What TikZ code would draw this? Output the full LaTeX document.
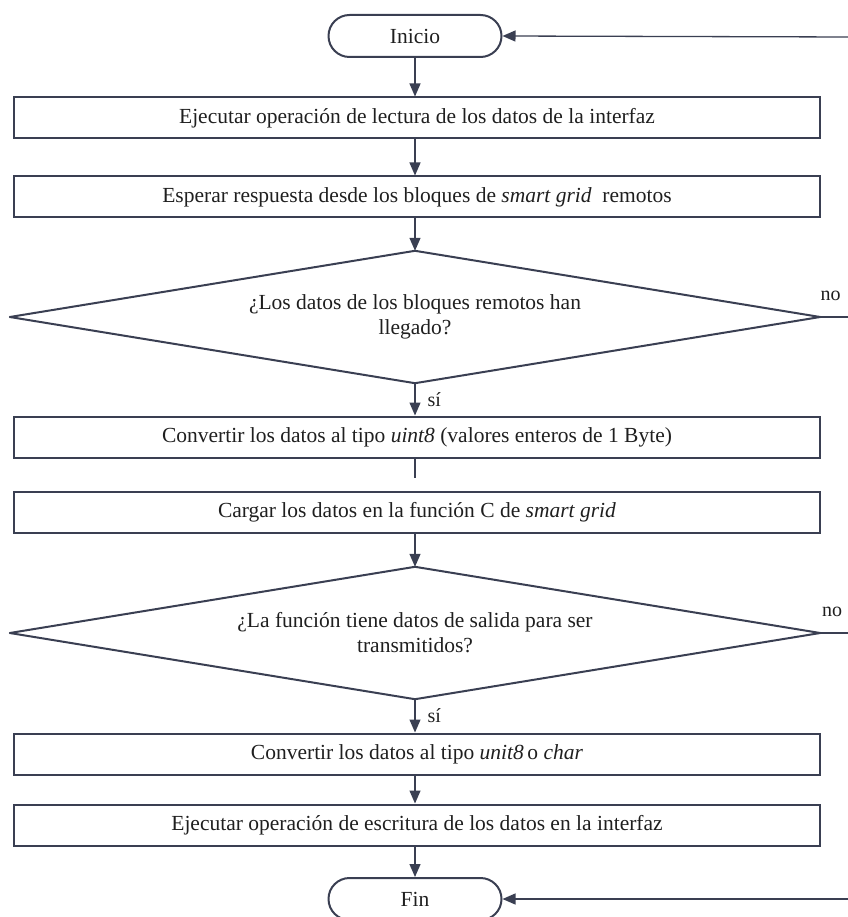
\documentclass[tikz,border=0pt]{standalone}
\usepackage{fontspec}
\setmainfont{Liberation Serif}
\usetikzlibrary{arrows.meta,shapes.misc}
\definecolor{ink}{RGB}{58,63,82}
\begin{document}
\begin{tikzpicture}[x=1pt,y=-1pt,
  every node/.style={font=\fontsize{21.5}{25}\selectfont, text=black!88},
  procbox/.style={draw=ink, line width=2pt, minimum width=806pt, minimum height=41pt, inner sep=0pt},
  term/.style={draw=ink, line width=2pt, rounded rectangle, minimum width=173pt, minimum height=42pt, inner sep=0pt},
  decision/.style={minimum width=810pt, minimum height=132pt, inner sep=0pt, align=center},
  rhomb/.style={draw=ink, line width=2pt, line join=round},
  flow/.style={draw=ink, line width=1.3pt, -{Triangle[length=13pt,width=11pt]}},
  plain/.style={draw=ink, line width=1.3pt},
  lbl/.style={font=\fontsize{20}{22}\selectfont, inner sep=0pt}
]
\useasboundingbox (0,0) rectangle (847,917);

% terminals, process steps and decisions
\node[term]     (start) at (415,36)  {Inicio};
\node[procbox]  (read)  at (417,118) {Ejecutar operación de lectura de los datos de la interfaz};
\node[procbox]  (wait)  at (417,197) {Esperar respuesta desde los bloques de \textit{smart grid}\ \ remotos};
\node[decision] (q1)    at (415,317) {¿Los datos de los bloques remotos han\\llegado?};
\node[procbox]  (conv)  at (417,437) {Convertir los datos al tipo \textit{uint8} (valores enteros de 1 Byte)};
\node[procbox]  (load)  at (417,512) {Cargar los datos en la función C de \textit{smart grid}};
\node[decision] (q2)    at (415,633) {¿La función tiene datos de salida para ser\\transmitidos?};
\node[procbox]  (conv2) at (417,754) {Convertir los datos al tipo \textit{unit8}\,o \textit{char}};
\node[procbox]  (write) at (417,825) {Ejecutar operación de escritura de los datos en la interfaz};
\node[term]     (stop)  at (415,899) {Fin};

% decision outlines
\draw[rhomb] (q1.north) -- (q1.east) -- (q1.south) -- (q1.west) -- cycle;
\draw[rhomb] (q2.north) -- (q2.east) -- (q2.south) -- (q2.west) -- cycle;

% free ends at the right border and below the conversion step
\coordinate (backTop) at (850,37);
\coordinate (backEnd) at (850,899);
\coordinate (noA)     at (850,317);
\coordinate (noB)     at (850,633);
\coordinate (stub)    at (415,478);

% main flow
\draw[flow] (start.south) -- (start.south |- read.north);
\draw[flow] (read.south -| start) -- (wait.north -| start);
\draw[flow] (wait.south -| start) -- (q1.north);
\draw[flow] (q1.south) -- node[lbl, midway, right=12pt] {sí} (conv.north -| q1);
\draw[plain] (conv.south -| q1) -- (stub);
\draw[flow] (load.south -| q1) -- (q2.north);
\draw[flow] (q2.south) -- node[lbl, midway, right=12pt] {sí} (conv2.north -| q2);
\draw[flow] (conv2.south -| q2) -- (write.north -| q2);
\draw[flow] (write.south -| stop) -- (stop.north);

% "no" branches and returns along the right border
\draw[plain] (q1.east) -- node[lbl, pos=0.35, above=16pt] {no} (noA);
\draw[plain] (q2.east) -- node[lbl, pos=0.4, above=16pt] {no} (noB);
\draw[flow] (backTop) -- (start.east);
\draw[flow] (backEnd) -- (stop.east);
\end{tikzpicture}
\end{document}
